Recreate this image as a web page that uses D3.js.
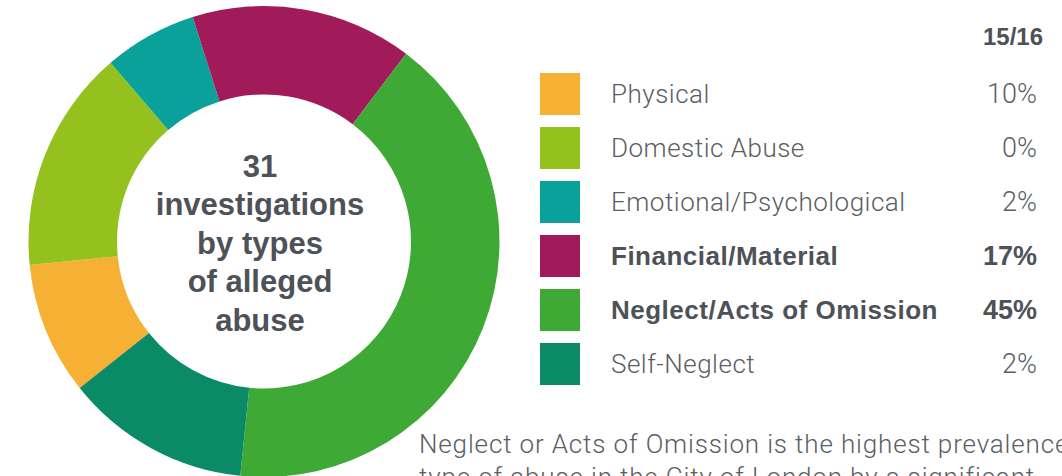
<!DOCTYPE html>
<html>
<head>
<meta charset="utf-8">
<script src="https://cdn.jsdelivr.net/npm/d3@7"></script>
<style>
    html, body { margin: 0; padding: 0; background: #fff; overflow: hidden; }
    svg { display: block; }
    .light { font-family: Roboto, "Liberation Sans", sans-serif; font-weight: 300; fill: #5a5e63; }
    .bold { font-family: "Liberation Sans", Arial, sans-serif; font-weight: 700; fill: #4d5258; }
</style>
</head>
<body>
<svg id="chart" width="1062" height="476"></svg>
<script>
// legend order, also the order slices run clockwise from the physical slice
const categories = ["Physical", "Domestic Abuse", "Emotional/Psychological", "Financial/Material", "Neglect/Acts of Omission", "Self-Neglect"];
// share of the ring (%)
const sliceShare = [9.1, 15.3, 6.4, 15.2, 41.3, 12.7];
// 15/16 column
const yearLabel = "15/16";
const yearValues = ["10%", "0%", "2%", "17%", "45%", "2%"];
const boldRows = ["Financial/Material", "Neglect/Acts of Omission"];
const colors = ["#f6b033", "#95c11f", "#0aa19b", "#a11a5a", "#3eaa35", "#0b8a68"];
const centerLines = ["31", "investigations", "by types", "of alleged", "abuse"];
const noteLines = [
    "Neglect or Acts of Omission is the highest prevalence",
    "type of abuse in the City of London by a significant"
];

const svg = d3.select("#chart");

const cx = 264, cy = 241.5, outerR = 235.5, innerR = 147;
const deg = Math.PI / 180;
const start = 231.5 * deg;

const z = d3.scaleOrdinal().domain(categories).range(colors);

const pie = d3.pie()
    .sort(null)
    .value(d => d.value)
    .startAngle(start)
    .endAngle(start + 2 * Math.PI);

const arc = d3.arc().innerRadius(innerR).outerRadius(outerR);

const slices = categories.map((c, i) => ({ name: c, value: sliceShare[i] }));

const ring = svg.append("g").attr("transform", `translate(${cx},${cy})`);

ring.selectAll("path")
    .data(pie(slices))
    .enter()
    .append("path")
    .attr("d", arc)
    .attr("fill", d => z(d.data.name));

svg.append("text")
    .attr("class", "bold")
    .attr("text-anchor", "middle")
    .style("font-size", "31px")
    .selectAll("tspan")
    .data(centerLines)
    .enter()
    .append("tspan")
    .attr("x", 260)
    .attr("y", (d, i) => 177 + i * 38.4)
    .text(d => d);

// legend
const rowY = d3.scalePoint().domain(categories).range([94, 364]);

const legend = svg.append("g");

legend.append("text")
    .attr("class", "bold")
    .attr("x", 1043)
    .attr("y", 45)
    .attr("text-anchor", "end")
    .style("font-size", "24px")
    .text(yearLabel);

const row = legend.selectAll(".row")
    .data(categories)
    .enter()
    .append("g")
    .attr("class", "row")
    .attr("transform", d => `translate(0,${rowY(d)})`);

row.append("rect")
    .attr("x", 540)
    .attr("y", -21)
    .attr("width", 40)
    .attr("height", 42)
    .attr("fill", d => z(d));

row.append("text")
    .attr("class", d => boldRows.includes(d) ? "bold" : "light")
    .attr("x", 611)
    .attr("y", 9)
    .style("font-size", "26px")
    .style("letter-spacing", d => boldRows.includes(d) ? "0.5px" : "0.5px")
    .text(d => d);

row.append("text")
    .attr("class", d => boldRows.includes(d) ? "bold" : "light")
    .attr("x", 1037)
    .attr("y", 9)
    .attr("text-anchor", "end")
    .style("font-size", "27px")
    .text((d, i) => yearValues[i]);

svg.append("text")
    .attr("class", "light")
    .style("font-size", "26px")
    .style("letter-spacing", "0.85px")
    .selectAll("tspan")
    .data(noteLines)
    .enter()
    .append("tspan")
    .attr("x", 419)
    .attr("y", (d, i) => 453 + i * 33)
    .text(d => d);
</script>
</body>
</html>
